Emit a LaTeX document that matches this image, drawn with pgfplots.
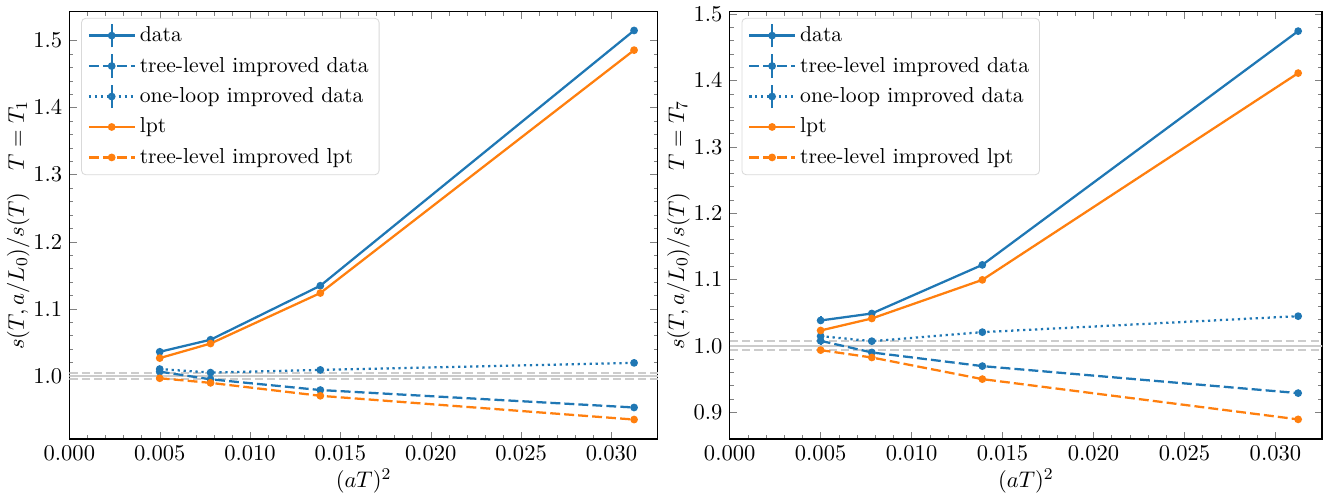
\documentclass[border=0pt]{standalone}
\usepackage{pgfplots}
\pgfplotsset{compat=1.18}
\definecolor{cblue}{HTML}{1F77B4}
\definecolor{corange}{HTML}{FF7F0E}
\definecolor{band}{HTML}{CCCCCC}

\pgfplotsset{
  lineleg/.style={legend image code/.code={
    \draw[mark repeat=2,mark phase=2,##1] plot coordinates {(0cm,0cm) (0.39cm,0cm) (0.78cm,0cm)};}},
  errleg/.style={legend image code/.code={
    \draw[mark repeat=2,mark phase=2,##1] plot coordinates {(0cm,0cm) (0.39cm,0cm) (0.78cm,0cm)};
    \draw[##1,solid,mark=none] (0.39cm,-0.2cm) -- (0.39cm,0.2cm);}},
  ratio/.style={
    width=285.7pt, height=207.6pt, scale only axis,
    xmin=0, xmax=0.032563,
    xtick={0,0.005,...,0.031}, minor x tick num=4, minor y tick num=4,
    scaled x ticks=false,
    tick label style={font=\fontsize{11}{13}\selectfont},
    label style={font=\fontsize{11}{13}\selectfont},
    xticklabel style={/pgf/number format/.cd, fixed, fixed zerofill, precision=3},
    yticklabel style={/pgf/number format/.cd, fixed, fixed zerofill, precision=1},
    tick align=inside, major tick length=3.6pt, minor tick length=2pt,
    axis line style={line width=0.6pt},
    xlabel={$(aT)^2$}, xlabel shift=-3pt, ylabel shift=-5pt,
    legend cell align=left,
    legend style={at={(0.02,0.985)}, anchor=north west, draw=black!15, rounded corners=2pt,
      font=\fontsize{10.5}{12.5}\selectfont,
      fill=white, fill opacity=0.8, text opacity=1, row sep=2pt, inner xsep=3pt, inner ysep=2pt},
    every axis plot/.append style={line width=1.1pt, mark size=1.3pt, every mark/.append style={solid}},
    error bars/error bar style={solid, line width=1.1pt},
    error bars/error mark=none,
  },
  dashedp/.style={dash pattern=on 4.8pt off 2pt},
  dottedp/.style={dash pattern=on 1.1pt off 1.8pt},
}

\begin{document}
\begin{tikzpicture}
% T = T_1
\begin{axis}[ratio, ymin=0.9059, ymax=1.5433, ytick={1.0,1.1,...,1.51},
  ylabel={$s(T,a/L_0)/s(T) \quad T = T_1$}]
\addplot[band, line width=1pt, forget plot] coordinates {(0,1) (0.033,1)};
\addplot[band, line width=1pt, dash pattern=on 4pt off 2pt, forget plot] coordinates {(0,1.004) (0.033,1.004)};
\addplot[band, line width=1pt, dash pattern=on 4pt off 2pt, forget plot] coordinates {(0,0.996) (0.033,0.996)};
\addplot[cblue, mark=*, errleg, error bars/.cd, y dir=both, y explicit] coordinates {
  (0.005,1.036) +- (0,0.006) (0.0078125,1.054) +- (0,0.002) (0.0138889,1.1345) +- (0,0.002) (0.03125,1.515) +- (0,0.002)};
\addplot[cblue, dashedp, mark=*, errleg, error bars/.cd, y dir=both, y explicit] coordinates {
  (0.005,1.0064) +- (0,0.005) (0.0078125,0.995) +- (0,0.002) (0.0138889,0.979) +- (0,0.001) (0.03125,0.953) +- (0,0.001)};
\addplot[cblue, dottedp, mark=*, errleg, error bars/.cd, y dir=both, y explicit] coordinates {
  (0.005,1.0103) +- (0,0.005) (0.0078125,1.005) +- (0,0.002) (0.0138889,1.009) +- (0,0.001) (0.03125,1.0195) +- (0,0.001)};
\addplot[corange, mark=*, lineleg] coordinates {
  (0.005,1.0266) (0.0078125,1.0483) (0.0138889,1.1236) (0.03125,1.4857)};
\addplot[corange, dashedp, mark=*, lineleg] coordinates {
  (0.005,0.9966) (0.0078125,0.9897) (0.0138889,0.9704) (0.03125,0.935)};
\legend{data, tree-level improved data, one-loop improved data, lpt, tree-level improved lpt}
\end{axis}
% T = T_7
\begin{axis}[ratio, at={(320.6pt,0pt)}, width=287.6pt, ymin=0.8594, ymax=1.504, ytick={0.9,1.0,...,1.51},
  ylabel={$s(T,a/L_0)/s(T) \quad T = T_7$}]
\addplot[band, line width=1pt, forget plot] coordinates {(0,1) (0.033,1)};
\addplot[band, line width=1pt, dash pattern=on 4pt off 2pt, forget plot] coordinates {(0,1.007) (0.033,1.007)};
\addplot[band, line width=1pt, dash pattern=on 4pt off 2pt, forget plot] coordinates {(0,0.993) (0.033,0.993)};
\addplot[cblue, mark=*, errleg, error bars/.cd, y dir=both, y explicit] coordinates {
  (0.005,1.0382) +- (0,0.006) (0.0078125,1.0487) +- (0,0.003) (0.0138889,1.122) +- (0,0.002) (0.03125,1.4744) +- (0,0.002)};
\addplot[cblue, dashedp, mark=*, errleg, error bars/.cd, y dir=both, y explicit] coordinates {
  (0.005,1.0075) +- (0,0.006) (0.0078125,0.990) +- (0,0.003) (0.0138889,0.9694) +- (0,0.001) (0.03125,0.9287) +- (0,0.001)};
\addplot[cblue, dottedp, mark=*, errleg, error bars/.cd, y dir=both, y explicit] coordinates {
  (0.005,1.0146) +- (0,0.006) (0.0078125,1.007) +- (0,0.003) (0.0138889,1.0206) +- (0,0.001) (0.03125,1.0447) +- (0,0.001)};
\addplot[corange, mark=*, lineleg] coordinates {
  (0.005,1.0231) (0.0078125,1.0412) (0.0138889,1.0994) (0.03125,1.4111)};
\addplot[corange, dashedp, mark=*, lineleg] coordinates {
  (0.005,0.9935) (0.0078125,0.9824) (0.0138889,0.9498) (0.03125,0.8891)};
\legend{data, tree-level improved data, one-loop improved data, lpt, tree-level improved lpt}
\end{axis}
\path (current bounding box.north east) ++(6pt,0pt);
\end{tikzpicture}
\end{document}
